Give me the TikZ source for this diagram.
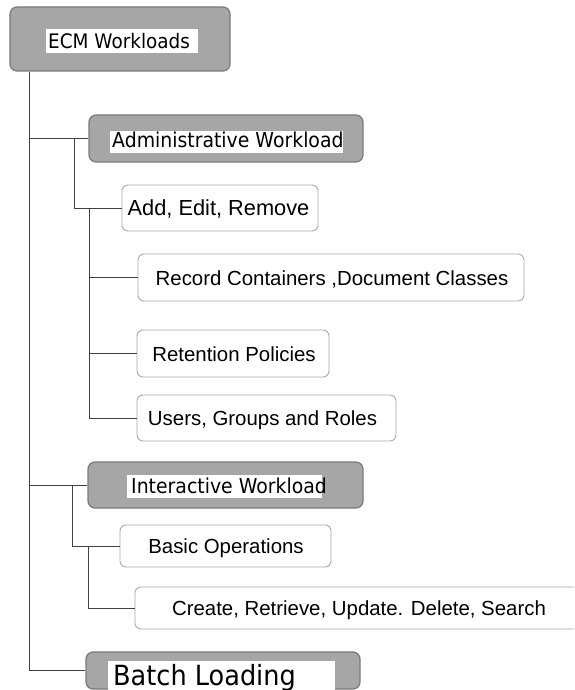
\documentclass[tikz,border=0pt]{standalone}
\usepackage{fontspec}
\newfontfamily\labfont[FakeStretch=0.92]{DejaVu Sans}
\newfontfamily\itemfont{Liberation Sans}
\definecolor{boxfill}{HTML}{A6A6A6}
\definecolor{boxedge}{HTML}{7A7A7A}
\definecolor{itemedge}{HTML}{A9A9A9}
\definecolor{wire}{HTML}{404040}
\tikzset{
  darkbox/.style={draw=boxedge, fill=boxfill, rounded corners=7pt, line width=1.2pt, inner sep=0pt},
  itembox/.style={draw=itemedge, fill=white, rounded corners=6pt, line width=0.9pt, inner sep=0pt},
  labeltext/.style={anchor=base west, inner sep=0pt, font=\labfont\fontsize{20.5}{24}\selectfont},
  itemtext/.style={anchor=base, inner sep=0pt, font=\itemfont\fontsize{20.4}{24}\selectfont},
  wireline/.style={draw=wire, line width=0.9pt}
}
\begin{document}
\begin{tikzpicture}[x=1pt, y=-1pt]
\useasboundingbox (0,0) rectangle (574,690);
\clip (0,0) rectangle (574,690);
\fill[white] (0,0) rectangle (574,690);

% branch columns
\coordinate (trunk) at (29,0);
\coordinate (adminbranch) at (74,0);
\coordinate (addbranch) at (89,0);
\coordinate (interbranch) at (72,0);
\coordinate (basicbranch) at (88,0);

% grey category boxes
\node[darkbox, minimum width=220pt, minimum height=64pt] (ecm) at (120,39) {};
\node[darkbox, minimum width=274pt, minimum height=47pt] (admin) at (226,138.5) {};
\node[darkbox, minimum width=275pt, minimum height=46pt] (inter) at (225.5,485) {};
\node[darkbox, minimum width=274pt, minimum height=37pt] (batch) at (223,670.5) {};

% white item boxes
\node[itembox, minimum width=196pt, minimum height=46pt] (add) at (220,208) {};
\node[itembox, minimum width=386pt, minimum height=47pt] (record) at (331,277.5) {};
\node[itembox, minimum width=192pt, minimum height=47pt] (retention) at (233,353.5) {};
\node[itembox, minimum width=259pt, minimum height=46pt] (users) at (266.5,418) {};
\node[itembox, minimum width=211pt, minimum height=42pt] (basic) at (225.5,546) {};
\node[itembox, minimum width=455pt, minimum height=42pt] (create) at (362.5,608) {};

% white patches behind the category titles
\fill[white] (46,29) rectangle (198,53);
\fill[white] (110,131) rectangle (343,153);
\fill[white] (127,475) rectangle (322,498);
\fill[white] (108,661) rectangle (335,692);

% category titles
\node[labeltext, font=\labfont\fontsize{20}{24}\selectfont] (ecmtext) at (48,49) {ECM Workloads};
\node[labeltext] (admintext) at (112,147) {Administrative Workload};
\node[labeltext] (intertext) at (131,493) {Interactive Workload};
\node[labeltext, font=\labfont\fontsize{27.8}{32}\selectfont] (batchtext) at (113,685) {Batch Loading};

% item texts
\node[itemtext, font=\itemfont\fontsize{21.8}{26}\selectfont] (addtext) at (218.5,215.5) {Add, Edit, Remove};
\node[itemtext] (recordtext) at (332,285) {Record Containers ,Document Classes};
\node[itemtext] (retentiontext) at (234,361) {Retention Policies};
\node[itemtext] (userstext) at (262.5,425) {Users, Groups and Roles};
\node[itemtext] (basictext) at (226,553.5) {Basic Operations};
\node[itemtext] (createtext) at (359,615.5) {Create, Retrieve, Update. Delete, Search};

% connectors
\draw[wireline] (ecm.south -| trunk) -- (trunk |- batch.west) -- (batch.west);
\draw[wireline] (trunk |- admin.west) -- (admin.west);
\draw[wireline] (trunk |- inter.west) -- (inter.west);
\draw[wireline] (adminbranch |- admin.west) -- (adminbranch |- add.west) -- (add.west);
\draw[wireline] (addbranch |- add.west) -- (addbranch |- users.west) -- (users.west);
\draw[wireline] (addbranch |- record.west) -- (record.west);
\draw[wireline] (addbranch |- retention.west) -- (retention.west);
\draw[wireline] (interbranch |- inter.west) -- (interbranch |- basic.west) -- (basic.west);
\draw[wireline] (basicbranch |- basic.west) -- (basicbranch |- create.west) -- (create.west);
\end{tikzpicture}
\end{document}
